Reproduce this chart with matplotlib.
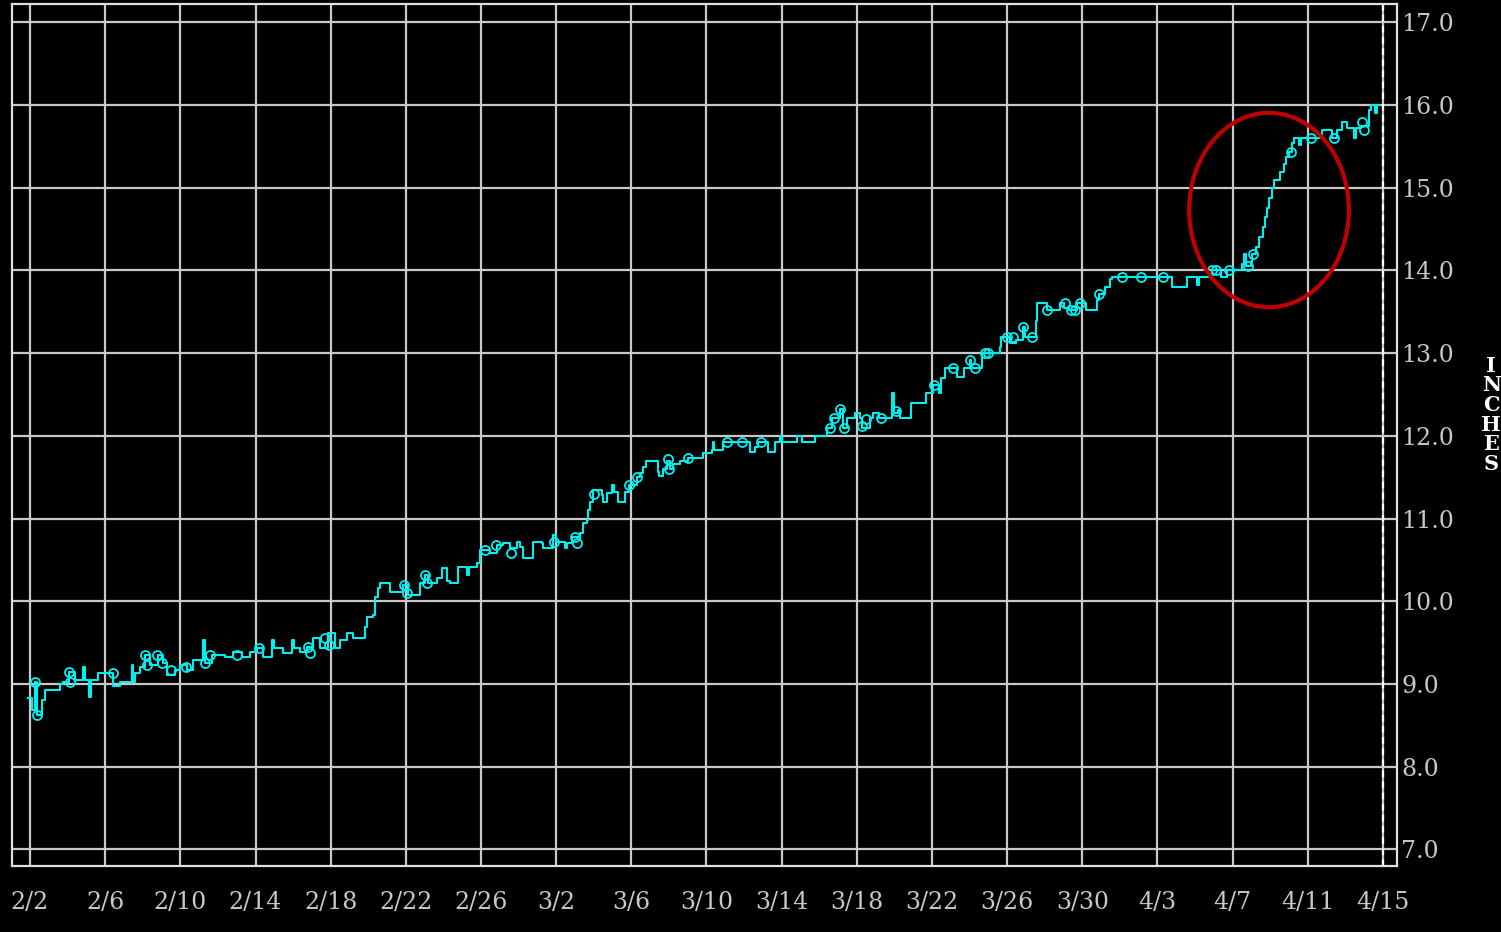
import numpy as np
import matplotlib
matplotlib.use('Agg')
import matplotlib.pyplot as plt
from matplotlib.patches import Ellipse

# days counted from 2/2, snow depth in inches
days = [-0.1, 0.1, 0.27, 0.37, 0.64, 0.8, 1.33, 1.6, 1.76, 2.07, 2.4, 2.82, 2.9, 3.03, 3.14, 3.24,
        3.6, 4.15, 4.4, 4.8, 5.3, 5.4, 5.5, 5.6, 5.85, 6.1, 6.4, 6.8, 7.07, 7.3, 7.7, 8.0, 8.35,
        8.67, 9.2, 9.3, 9.7, 10.4, 10.8, 11.3, 11.7, 12.1, 12.4, 12.87, 12.98, 13.46, 13.94,
        14.04, 14.36, 14.73, 15.05, 15.43, 15.85, 16.22, 16.49, 16.86, 17.18, 17.82, 17.93,
        18.24, 18.35, 18.51, 18.62, 19.15, 19.84, 20.1, 20.74, 21.0, 21.17, 21.65, 21.91, 22.2,
        22.34, 22.77, 23.24, 23.34, 23.78, 23.94, 24.47, 24.84, 25.16, 25.53, 25.9, 26.06,
        26.22, 26.76, 27.23, 27.29, 27.82, 27.98, 28.46, 28.6, 28.83, 29.26, 29.41, 29.63,
        29.68, 29.79, 29.95, 30.43, 30.48, 30.7, 30.96, 31.06, 31.28, 31.65, 31.9, 32.3, 32.45,
        32.6, 32.8, 33.4, 33.5, 33.67, 33.9, 34.04, 34.2, 34.57, 35.0, 35.8, 36.28, 36.33, 36.4,
        36.86, 38.3, 38.56, 38.72, 39.26, 39.63, 39.9, 40.0, 40.8, 41.1, 41.76, 42.4, 42.7,
        43.1, 43.24, 43.46, 43.88, 44.15, 44.3, 44.52, 44.68, 44.84, 45.2, 45.85, 45.88, 45.96,
        46.17, 46.28, 46.9, 47.7, 48.03, 48.4, 48.5, 48.67, 49.36, 49.73, 50.0, 50.1, 50.64,
        51.6, 51.7, 52.13, 52.5, 52.87, 52.93, 53.56, 53.6, 54.1, 54.8, 55.05, 55.3, 55.7,
        56.2, 56.76, 56.9, 57.2, 57.45, 57.6, 60.74, 60.8, 61.33, 61.6, 62.07, 62.13, 62.23,
        62.93, 63.4, 63.72, 64.52, 64.63, 64.73, 65.0, 65.05, 65.27, 65.43, 65.6, 65.7, 65.85,
        65.96, 66.12, 66.22, 66.5, 66.76, 66.86, 67.0, 67.18, 67.29, 67.55, 67.66, 68.78,
        69.3, 69.57, 69.84, 70.1, 70.48, 70.55, 70.85, 71.28, 71.38, 71.6, 71.68, 71.8]
depth = [8.83, 8.69, 9.03, 8.63, 8.81, 8.93, 8.93, 9.0, 9.03, 9.15, 9.05, 9.2, 9.05, 9.05, 8.84, 9.05,
         9.13, 9.13, 8.97, 9.03, 9.03, 9.23, 9.03, 9.13, 9.2, 9.35, 9.23, 9.35, 9.25, 9.11, 9.17, 9.23, 9.17,
         9.29, 9.53, 9.25, 9.35, 9.33, 9.39, 9.33, 9.39, 9.43, 9.33, 9.53, 9.43, 9.37, 9.53,
         9.43, 9.39, 9.45, 9.56, 9.43, 9.62, 9.43, 9.53, 9.62, 9.56, 9.69, 9.81,
         9.83, 10.05, 10.16, 10.22, 10.11, 10.2, 10.08, 10.22, 10.32, 10.22, 10.28, 10.4, 10.25,
         10.22, 10.41, 10.32, 10.41, 10.46, 10.62, 10.58, 10.68, 10.7, 10.64, 10.72, 10.66,
         10.52, 10.72, 10.7, 10.64, 10.8, 10.72, 10.64, 10.7, 10.78, 10.83, 10.95, 10.98,
         11.1, 11.2, 11.35, 11.29, 11.2, 11.31, 11.41, 11.32, 11.2, 11.32, 11.41, 11.5, 11.55,
         11.62, 11.7, 11.56, 11.52, 11.6, 11.7, 11.6, 11.66, 11.7, 11.73, 11.79, 11.83, 11.92, 11.83,
         11.92, 11.8, 11.86, 11.92, 11.8, 11.92, 12.0, 11.92, 12.0, 11.92, 12.0, 12.09, 12.21,
         12.33, 12.1, 12.21, 12.28, 12.21, 12.09, 12.1, 12.21, 12.28, 12.21, 12.28, 12.52, 12.28,
         12.31, 12.21, 12.4, 12.52, 12.62, 12.52, 12.7, 12.82, 12.71, 12.82, 12.92, 12.82, 13.0,
         13.07, 13.2, 13.12, 13.16, 13.31, 13.2, 13.39, 13.61, 13.52, 13.61, 13.55, 13.52, 13.61,
         13.52, 13.64, 13.72, 13.8, 13.89, 13.92, 13.92, 13.8, 13.8, 13.92, 13.92, 13.82, 13.92,
         14.0, 13.92, 14.0, 14.08, 14.2, 14.05, 14.1, 14.2, 14.28, 14.4, 14.52, 14.64, 14.76,
         14.88, 15.0, 15.09, 15.19, 15.28, 15.37, 15.43, 15.54, 15.6, 15.52, 15.6, 15.7,
         15.6, 15.7, 15.79, 15.72, 15.6, 15.72, 15.75, 15.94, 16.0, 15.9, 16.0, 16.0]

# circled readings
mark_days = [0.27, 0.37, 2.07, 2.1, 4.4, 6.1, 6.2, 6.75, 7.0, 7.5, 8.3, 9.3, 9.6, 11.0, 12.2,
             14.8, 14.9, 15.7, 15.9, 19.9, 20.05, 21.0, 21.1, 24.2, 24.8, 25.6, 27.9, 29.0,
             29.1, 30.0, 31.9, 32.3, 33.95, 34.0, 35.0, 37.1, 37.9, 38.9, 42.6, 42.8, 43.1,
             43.3, 44.3, 44.5, 45.3, 46.1, 48.1, 49.1, 50.0, 50.3, 50.8, 51.0, 52.0, 52.3,
             52.85, 53.3, 54.1, 55.1, 55.4, 55.6, 55.9, 56.9, 58.1, 59.1, 60.3, 62.9, 63.1,
             63.8, 64.8, 65.1, 67.1, 68.2, 69.4, 70.9, 71.0]
mark_depth = [9.03, 8.63, 9.15, 9.02, 9.13, 9.35, 9.23, 9.35, 9.25, 9.17, 9.2, 9.25, 9.35, 9.35, 9.43,
              9.45, 9.38, 9.56, 9.47, 10.2, 10.1, 10.32, 10.22, 10.62, 10.68, 10.58, 10.72, 10.78,
              10.7, 11.3, 11.41, 11.5, 11.72, 11.6, 11.73, 11.92, 11.92, 11.92, 12.1, 12.21, 12.33,
              12.1, 12.12, 12.2, 12.21, 12.3, 12.62, 12.82, 12.92, 12.82, 13.0, 13.0, 13.2, 13.2,
              13.31, 13.2, 13.52, 13.6, 13.52, 13.52, 13.6, 13.72, 13.92, 13.92, 13.92, 14.0, 14.0,
              14.0, 14.05, 14.2, 15.43, 15.6, 15.6, 15.79, 15.7]

tick_days = list(range(0, 73, 4))
tick_labels = ['2/2', '2/6', '2/10', '2/14', '2/18', '2/22', '2/26', '3/2', '3/6', '3/10',
               '3/14', '3/18', '3/22', '3/26', '3/30', '4/3', '4/7', '4/11', '4/15']
y_ticks = [7.0, 8.0, 9.0, 10.0, 11.0, 12.0, 13.0, 14.0, 15.0, 16.0, 17.0]

cyan = '#00f0f0'
grey = '#c8c8c8'
font = 'DejaVu Serif'

fig = plt.figure(figsize=(15.01, 9.32), dpi=100, facecolor='black')
ax = fig.add_axes([0.008, 0.0708, 0.9227, 0.9249], facecolor='black')

ax.plot(days, depth, drawstyle='steps-post', color=cyan, lw=1.5, zorder=3)
ax.plot(mark_days, mark_depth, 'o', ms=6.5, mfc='none', mec=cyan, mew=1.3, zorder=4)

# highlight around the jump
ax.add_patch(Ellipse((65.94, 14.73), 8.5, 2.35, fill=False, ec='#c00000', lw=3, zorder=5))

ax.axvline(72, color='white', ls=(0, (3, 2)), lw=1.6, zorder=2)

ax.set_xlim(-0.96, 72.75)
ax.set_ylim(6.8, 17.22)
ax.set_xticks(tick_days)
ax.set_xticklabels(tick_labels, fontfamily=font, fontsize=17, color=grey)
ax.set_yticks(y_ticks)
ax.set_yticklabels([f'{v:.1f}' for v in y_ticks], fontfamily=font, fontsize=17, color=grey)
ax.yaxis.tick_right()
ax.tick_params(axis='x', length=0, pad=18)
ax.tick_params(axis='y', length=0, pad=3)
ax.grid(True, color=grey, lw=1.6)
ax.set_axisbelow(True)
for s in ax.spines.values():
    s.set_color('#e0e0e0')
    s.set_linewidth(1.6)

fig.text(0.9935, 0.555, '\n'.join('INCHES'), color='white', fontfamily=font, fontsize=15,
         fontweight='bold', ha='center', va='center', linespacing=0.98)

fig.savefig('out.png', dpi=100, facecolor='black')
